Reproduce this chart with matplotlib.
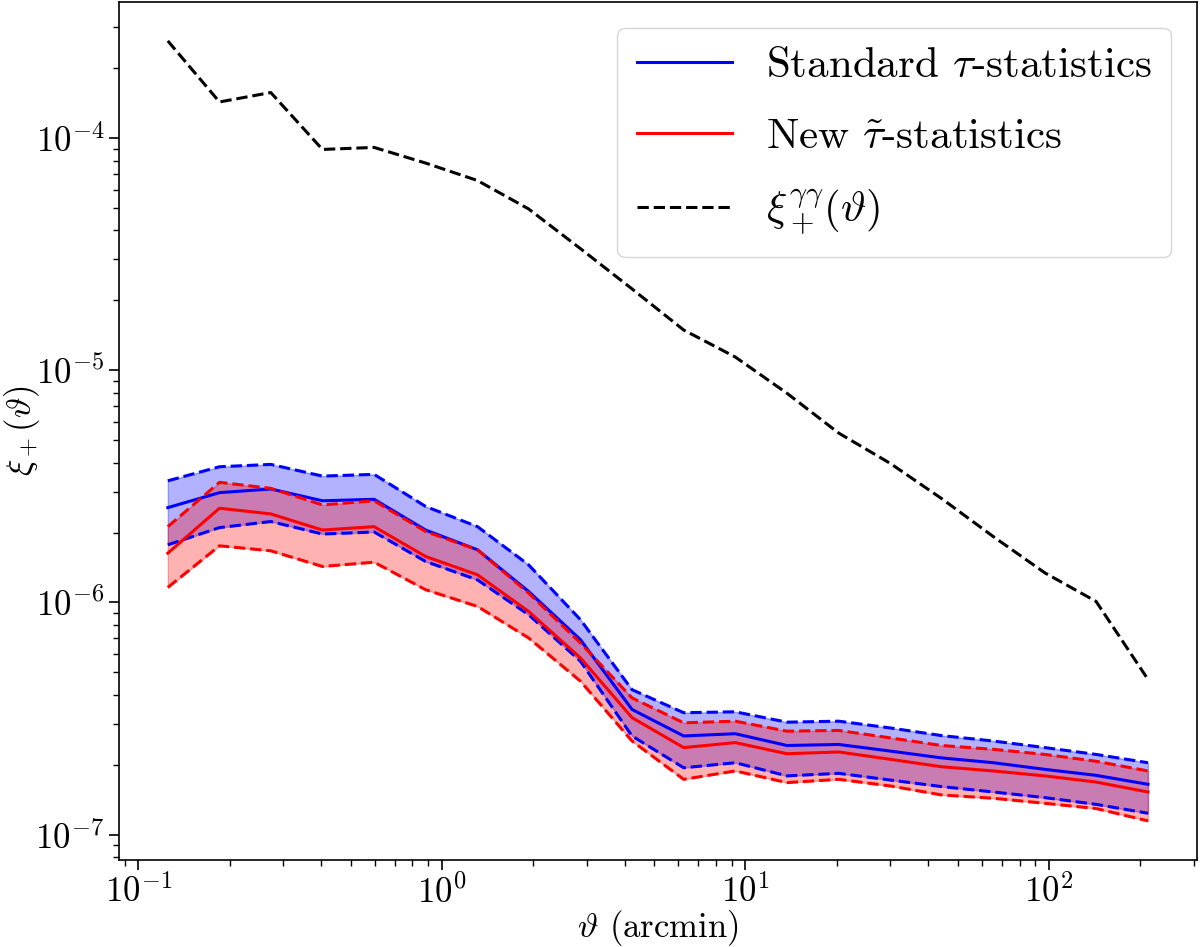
import matplotlib
matplotlib.use("Agg")
import matplotlib.pyplot as plt

plt.rcParams['font.family'] = 'serif'
plt.rcParams['font.serif'] = ['cmr10']
plt.rcParams['mathtext.fontset'] = 'cm'
plt.rcParams['axes.formatter.use_mathtext'] = True
plt.rcParams['axes.unicode_minus'] = True

# angular scales (arcmin)
theta = [0.125, 0.185, 0.273, 0.404, 0.598, 0.884, 1.31, 1.93, 2.86, 4.23,
         6.26, 9.26, 13.7, 20.3, 30.0, 44.3, 65.6, 97.0, 143.0, 212.0]

# xi_+^{gamma gamma}
xi_gg = [2.62e-4, 1.43e-4, 1.57e-4, 8.93e-5, 9.11e-5, 7.8e-5, 6.56e-5, 4.95e-5, 3.34e-5, 2.24e-5,
         1.49e-5, 1.14e-5, 7.96e-6, 5.36e-6, 3.97e-6, 2.80e-6, 1.92e-6, 1.34e-6, 1.01e-6, 4.66e-7]

# standard tau statistics
tau_mid = [2.56e-6, 2.97e-6, 3.08e-6, 2.74e-6, 2.78e-6, 2.05e-6, 1.685e-6, 1.115e-6, 6.91e-7, 3.46e-7,
           2.66e-7, 2.72e-7, 2.42e-7, 2.445e-7, 2.29e-7, 2.14e-7, 2.04e-7, 1.91e-7, 1.80e-7, 1.647e-7]
tau_hi = [3.34e-6, 3.84e-6, 3.93e-6, 3.50e-6, 3.56e-6, 2.59e-6, 2.12e-6, 1.452e-6, 8.43e-7, 4.21e-7,
          3.35e-7, 3.38e-7, 3.05e-7, 3.08e-7, 2.88e-7, 2.67e-7, 2.53e-7, 2.37e-7, 2.215e-7, 2.04e-7]
tau_lo = [1.77e-6, 2.10e-6, 2.23e-6, 1.97e-6, 2.01e-6, 1.50e-6, 1.25e-6, 8.85e-7, 5.58e-7, 2.66e-7,
          1.94e-7, 2.04e-7, 1.79e-7, 1.836e-7, 1.718e-7, 1.61e-7, 1.526e-7, 1.443e-7, 1.35e-7, 1.236e-7]

# new tilde-tau statistics
ttau_mid = [1.63e-6, 2.545e-6, 2.405e-6, 2.05e-6, 2.12e-6, 1.577e-6, 1.315e-6, 9.15e-7, 5.77e-7, 3.19e-7,
            2.37e-7, 2.49e-7, 2.23e-7, 2.27e-7, 2.11e-7, 1.96e-7, 1.88e-7, 1.79e-7, 1.684e-7, 1.526e-7]
ttau_hi = [2.12e-6, 3.29e-6, 3.10e-6, 2.63e-6, 2.74e-6, 2.02e-6, 1.685e-6, 1.097e-6, 6.69e-7, 3.88e-7,
           3.03e-7, 3.08e-7, 2.79e-7, 2.81e-7, 2.61e-7, 2.42e-7, 2.33e-7, 2.215e-7, 2.07e-7, 1.88e-7]
ttau_lo = [1.16e-6, 1.753e-6, 1.668e-6, 1.428e-6, 1.49e-6, 1.134e-6, 9.61e-7, 7.03e-7, 4.58e-7, 2.53e-7,
           1.73e-7, 1.88e-7, 1.675e-7, 1.73e-7, 1.62e-7, 1.482e-7, 1.434e-7, 1.364e-7, 1.295e-7, 1.146e-7]

fig = plt.figure(figsize=(12, 9.47), dpi=100)
ax = fig.add_axes([0.099, 0.092, 0.8985, 0.906])

lw = 2.2
ax.plot(theta, tau_mid, color='blue', lw=lw, label=r'Standard $\tau$-statistics')
ax.fill_between(theta, tau_lo, tau_hi, color='blue', alpha=0.3)
ax.plot(theta, tau_hi, color='blue', lw=lw, ls='--')
ax.plot(theta, tau_lo, color='blue', lw=lw, ls='--')

ax.plot(theta, ttau_mid, color='red', lw=lw, label=r'New $\tilde{\tau}$-statistics')
ax.fill_between(theta, ttau_lo, ttau_hi, color='red', alpha=0.3)
ax.plot(theta, ttau_hi, color='red', lw=lw, ls='--')
ax.plot(theta, ttau_lo, color='red', lw=lw, ls='--')

ax.plot(theta, xi_gg, color='black', lw=lw, ls='--', label=r'$\xi_+^{\gamma\gamma}(\vartheta)$')

ax.set_xscale('log')
ax.set_yscale('log')
ax.set_xlabel(r'$\vartheta$ (arcmin)', fontsize=25, labelpad=-1)
ax.set_ylabel(r'$\xi_+(\vartheta)$', fontsize=25, labelpad=-5)
ax.tick_params(which='major', labelsize=25, length=7, width=1.2)
ax.tick_params(which='minor', length=4, width=1.0)
for s in ax.spines.values():
    s.set_linewidth(1.2)

ax.legend(loc='upper right', fontsize=31, handlelength=2.2,
          labelspacing=0.75, borderpad=0.45, borderaxespad=0.6)

fig.savefig('out.png', dpi=100)
